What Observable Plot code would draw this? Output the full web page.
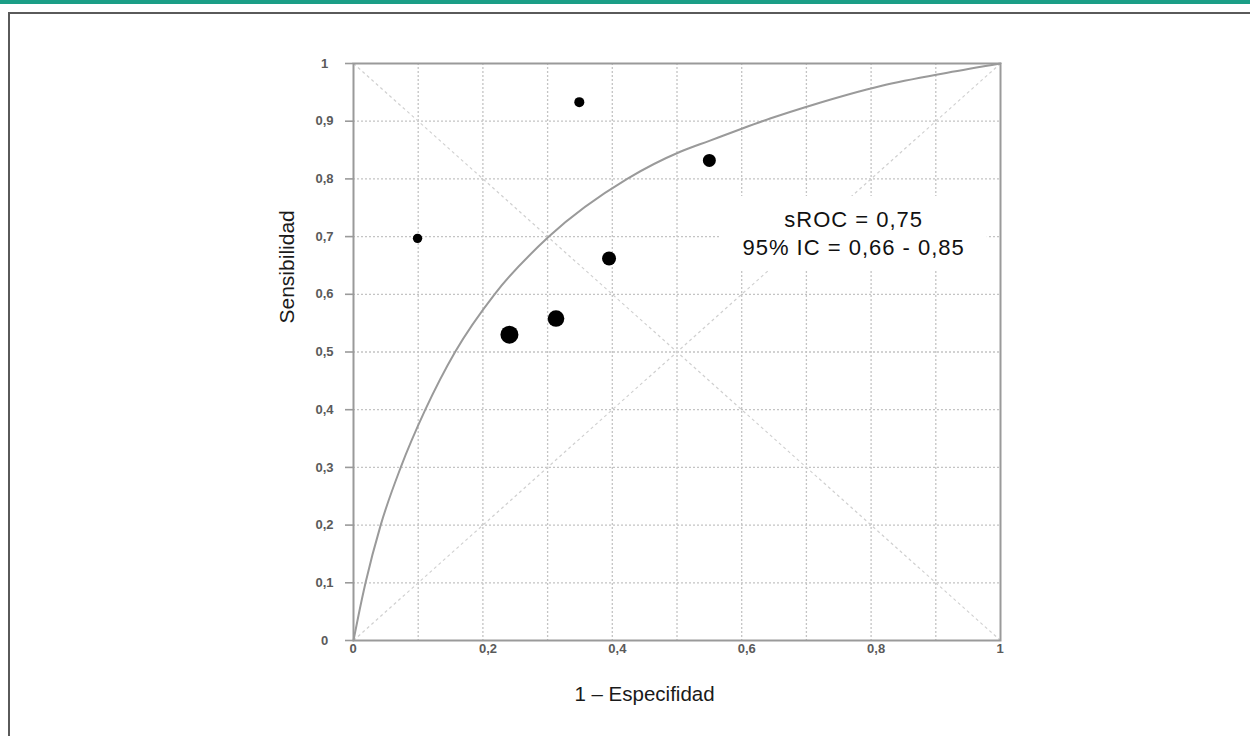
<!DOCTYPE html>
<html>
<head>
<meta charset="utf-8">
<script src="https://cdn.jsdelivr.net/npm/d3@7"></script>
<script src="https://cdn.jsdelivr.net/npm/@observablehq/plot@0.6"></script>
<style>
  html, body { margin: 0; padding: 0; background: #fff; }
  body { position: relative; width: 1250px; height: 736px; overflow: hidden; font-family: "Liberation Sans", Arial, sans-serif; }
  #topbar { position: absolute; left: 0; top: 0; width: 1250px; height: 4px; background: #1b9e86; }
  #box { position: absolute; left: 8px; top: 12px; width: 1300px; height: 800px; border-left: 2px solid #5a5a5a; border-top: 2px solid #5a5a5a; }
  #chart { position: absolute; left: 0; top: 0; }
</style>
</head>
<body>
<div id="topbar"></div>
<div id="box"></div>
<div id="chart"></div>
<script>
// ---- data ----
// individual studies (1 - especificidad, sensibilidad, study weight)
const studyFpr    = [0.099, 0.349, 0.550, 0.395, 0.313, 0.241];
const studySens   = [0.697, 0.933, 0.832, 0.662, 0.558, 0.530];
const studyWeight = [22, 25, 42, 49, 69, 81];

// summary ROC curve
const srocFpr  = [0, 0.008, 0.0186, 0.042, 0.073, 0.111, 0.157, 0.218, 0.302, 0.423, 0.505, 0.55, 0.60, 0.645, 0.712, 0.815, 0.918, 1];
const srocSens = [0, 0.045, 0.10,   0.20,  0.30,  0.40,  0.50,  0.60,  0.70,  0.80,  0.847, 0.866, 0.887, 0.905, 0.929, 0.961, 0.984, 1];

// reference diagonals
const diagFrom = [[0, 0], [0, 1]];
const diagTo   = [[1, 1], [1, 0]];

// ticks
const axisTicks = [0, 0.1, 0.2, 0.3, 0.4, 0.5, 0.6, 0.7, 0.8, 0.9, 1];
const xTickLabels = [0, 0.2, 0.4, 0.6, 0.8, 1];
const gridTicks = [0.1, 0.2, 0.3, 0.4, 0.5, 0.6, 0.7, 0.8, 0.9];

// texts
const xTitle = "1 – Especifidad";
const yTitle = "Sensibilidad";
const annotLines = ["sROC = 0,75", "95% IC = 0,66 - 0,85"];

// ---- build ----
const studies = studyFpr.map((x, i) => ({x, y: studySens[i], w: studyWeight[i]}));
const sroc = srocFpr.map((x, i) => ({x, y: srocSens[i]}));
const diags = diagFrom.map((a, i) => ({x1: a[0], y1: a[1], x2: diagTo[i][0], y2: diagTo[i][1]}));
const fmt = d => String(d).replace(".", ",");

const svg = Plot.plot({
  width: 1250,
  height: 736,
  marginLeft: 353,
  marginRight: 250,
  marginTop: 63,
  marginBottom: 96,
  style: {background: "transparent", fontFamily: "'Liberation Sans', Arial, sans-serif", fontSize: "13px"},
  x: {domain: [0, 1], axis: null},
  y: {domain: [0, 1], axis: null},
  r: {type: "sqrt", domain: [0, 81], range: [0, 9]},
  marks: [
    Plot.gridX(gridTicks, {stroke: "#c4c4c4", strokeOpacity: 1, strokeWidth: 1.3, strokeDasharray: "2,2"}),
    Plot.gridY(gridTicks, {stroke: "#c4c4c4", strokeOpacity: 1, strokeWidth: 1.3, strokeDasharray: "2,2"}),
    Plot.link(diags, {x1: "x1", y1: "y1", x2: "x2", y2: "y2", stroke: "#d0d0d0", strokeWidth: 1.2, strokeDasharray: "3,3"}),
    Plot.frame({stroke: "#9a9a9a", strokeWidth: 2}),
    Plot.axisY(axisTicks, {tickSize: 8, tickPadding: 21, textAnchor: "middle", tickFormat: fmt, stroke: "#9a9a9a", strokeWidth: 1.6, fill: "#5a5a5a", fontSize: 13, fontWeight: "bold", label: null}),
    Plot.axisX(xTickLabels, {tickSize: 0, tickPadding: 3, textAnchor: "start", dx: -4, tickFormat: fmt, fill: "#5a5a5a", fontSize: 13, fontWeight: "bold", label: null}),
    Plot.line(sroc, {x: "x", y: "y", curve: "monotone-x", stroke: "#9a9a9a", strokeWidth: 2}),
    Plot.dot(studies, {x: "x", y: "y", r: "w", fill: "#000", stroke: "none"}),
    Plot.text([annotLines.join("\n")], {x: 0.773, y: 0.708, text: d => d, fontSize: 22, lineHeight: 1.26, fill: "#111"}),
    Plot.text([xTitle], {frameAnchor: "bottom", dx: -32.5, dy: 60, fontSize: 20.5, fill: "#1a1a1a"}),
    Plot.text([yTitle], {frameAnchor: "left", rotate: -90, dx: -66.5, dy: -28.5, fontSize: 21, fill: "#1a1a1a"})
  ]
});
document.getElementById("chart").appendChild(svg);

// white box behind the annotation text
const annotText = Array.from(svg.querySelectorAll("text")).find(t => t.textContent.includes("sROC"));
if (annotText) {
  annotText.style.letterSpacing = "1px";
  const g = annotText.parentNode;
  const bb = annotText.getBBox();
  const padX = 22, padY = 11;
  const rect = document.createElementNS("http://www.w3.org/2000/svg", "rect");
  rect.setAttribute("x", bb.x - padX);
  rect.setAttribute("y", bb.y - padY);
  rect.setAttribute("width", bb.width + 2 * padX);
  rect.setAttribute("height", bb.height + 2 * padY);
  rect.setAttribute("fill", "#fff");
  const tr = annotText.getAttribute("transform");
  if (tr) rect.setAttribute("transform", tr);
  g.insertBefore(rect, annotText);
}
</script>
</body>
</html>
